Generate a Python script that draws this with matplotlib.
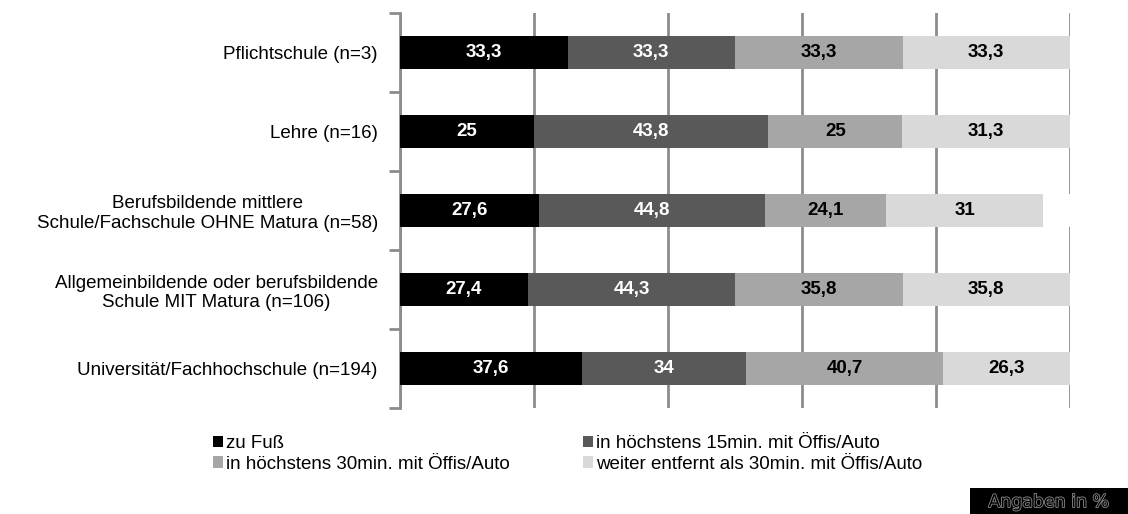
import numpy as np
import matplotlib.pyplot as plt
import matplotlib.patheffects as pe
from matplotlib.patches import Rectangle
from matplotlib.ticker import FixedLocator

plt.rcParams['font.family'] = ['Liberation Sans', 'DejaVu Sans']

categories = [
    "Pflichtschule (n=3)",
    "Lehre (n=16)",
    "Berufsbildende mittlere\nSchule/Fachschule OHNE Matura (n=58)",
    "Allgemeinbildende oder berufsbildende\nSchule MIT Matura (n=106)",
    "Universität/Fachhochschule (n=194)",
]
series_names = [
    "zu Fuß",
    "in höchstens 15min. mit Öffis/Auto",
    "in höchstens 30min. mit Öffis/Auto",
    "weiter entfernt als 30min. mit Öffis/Auto",
]
zu_fuss = [33.3, 25, 27.6, 27.4, 37.6]
min15 = [33.3, 43.8, 44.8, 44.3, 34]
min30 = [33.3, 25, 24.1, 35.8, 40.7]
weiter = [33.3, 31.3, 31, 35.8, 26.3]
# unlabelled remainder (white, not in legend)
rest = [0, 0, 5.4, 0, 0]

colors = ["#000000", "#595959", "#a6a6a6", "#d9d9d9"]
text_colors = ["white", "white", "black", "black"]

fig = plt.figure(figsize=(11.28, 5.14), dpi=100)
ax = fig.add_axes([400 / 1128, 1 - 408 / 514, 670 / 1128, 395 / 514])

values = np.array([zu_fuss, min15, min30, weiter, rest], dtype=float)
totals = values.sum(axis=0)
shares = values / totals * 100
y = np.arange(len(categories))

left = np.zeros(len(categories))
handles = []
for i, name in enumerate(series_names):
    bars = ax.barh(y, shares[i], left=left, height=0.41, color=colors[i],
                   label=name, zorder=3)
    handles.append(bars)
    for j, b in enumerate(bars):
        ax.text(left[j] + shares[i][j] / 2, y[j], f"{values[i][j]:g}".replace(".", ","),
                ha="center", va="center", fontsize=13.5, fontweight="bold",
                color=text_colors[i], zorder=4)
    left += shares[i]
ax.barh(y, shares[4], left=left, height=0.41, color="white", zorder=3)

ax.set_xlim(0, 100)
ax.set_ylim(len(categories) - 0.5, -0.5)
ax.xaxis.set_major_locator(FixedLocator([0, 20, 40, 60, 80, 100]))
ax.grid(axis="x", color="#8c8c8c", linewidth=2, zorder=1)
ax.tick_params(axis="x", length=0, labelbottom=False)
ax.set_yticks(y)
ax.set_yticklabels(categories, fontsize=13.5)
for lab in ax.get_yticklabels():
    lab.set_multialignment("center")
ax.yaxis.set_minor_locator(FixedLocator(np.arange(-0.5, len(categories), 1)))
ax.tick_params(axis="y", which="major", length=0, pad=16)
ax.tick_params(axis="y", which="minor", length=8, width=2, color="#8c8c8c")
for s in ["top", "right", "bottom"]:
    ax.spines[s].set_visible(False)
ax.spines["left"].set_color("#8c8c8c")
ax.spines["left"].set_linewidth(2)

order = [0, 2, 1, 3]
fig.legend([handles[k] for k in order], [series_names[k] for k in order],
           ncol=2, loc="upper left", bbox_to_anchor=(213 / 1128, 1 - 435 / 514),
           frameon=False, fontsize=13.5, handlelength=0.55, handleheight=0.55,
           handletextpad=0.15, labelspacing=0.19, columnspacing=3.9,
           borderpad=0, borderaxespad=0)

# "Angaben in %" note, black box in the bottom right corner
fig.add_artist(Rectangle((970 / 1128, 0), 158 / 1128, 26 / 514,
                         transform=fig.transFigure, facecolor="black",
                         edgecolor="none"))
fig.text(1049 / 1128, 12 / 514, "Angaben in %", ha="center", va="center",
         fontsize=12.5, family="DejaVu Sans", color="black",
         path_effects=[pe.withStroke(linewidth=1.2, foreground="#8c8c8c")])

fig.savefig("out.png", dpi=100)
